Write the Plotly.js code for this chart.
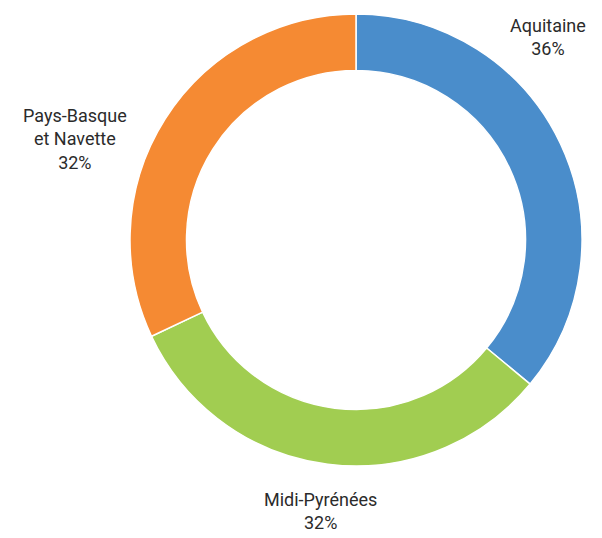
<!DOCTYPE html>
<html>
<head>
<meta charset="utf-8">
<script src="https://cdn.plot.ly/plotly-3.0.1.min.js"></script>
<style>html,body{margin:0;padding:0;background:#fff;}#chart{width:602px;height:538px;}</style>
</head>
<body>
<div id="chart"></div>
<script>
var categories = ["Aquitaine", "Midi-Pyrénées", "Pays-Basque<br>et Navette"];
var shares = [36, 32, 32];
var colors = ["#4A8DCB", "#A1CD51", "#F58A33"];

var labelPos = [
  {x: 548 / 602, y: 1 - 37 / 538},
  {x: 320 / 602, y: 1 - 511 / 538},
  {x: 75 / 602, y: 1 - 139 / 538}
];

var annotations = categories.map(function (c, i) {
  return {
    text: c + "<br>" + shares[i] + "%",
    x: labelPos[i].x, y: labelPos[i].y,
    xref: "paper", yref: "paper",
    xanchor: "center", yanchor: "middle",
    showarrow: false,
    align: "center",
    font: {family: "Roboto, sans-serif", size: 18, color: "#2b2b2b"}
  };
});

var trace = {
  type: "pie",
  labels: categories,
  values: shares,
  hole: 0.75,
  sort: false,
  direction: "clockwise",
  rotation: 0,
  textinfo: "none",
  hoverinfo: "label+percent",
  marker: {colors: colors, line: {color: "#ffffff", width: 1.5}},
  domain: {x: [130 / 602, 582 / 602], y: [1 - 466 / 538, 1 - 14 / 538]}
};

var layout = {
  width: 602, height: 538,
  margin: {l: 0, r: 0, t: 0, b: 0},
  showlegend: false,
  paper_bgcolor: "#ffffff",
  annotations: annotations
};

Plotly.newPlot("chart", [trace], layout, {displayModeBar: false, staticPlot: true});
</script>
</body>
</html>
